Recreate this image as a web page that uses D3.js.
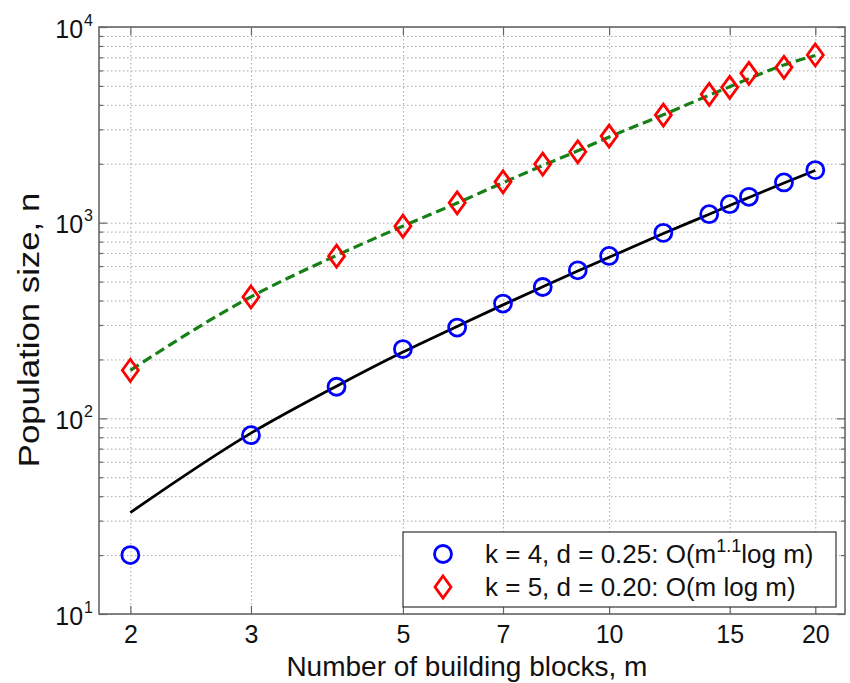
<!DOCTYPE html>
<html>
<head>
<meta charset="utf-8">
<script src="https://cdnjs.cloudflare.com/ajax/libs/d3/7.8.5/d3.min.js"></script>
<style>
  body { margin: 0; background: #fff; }
  svg { display: block; font-family: "Liberation Sans", Arial, sans-serif; }
</style>
</head>
<body>
<div id="chart-area"></div>
<script>
// Data
var blocks = [2, 3, 4, 5, 6, 7, 8, 9, 10, 12, 14, 15, 16, 18, 20];
var popK4 = [20, 82, 145, 226, 291, 386, 469, 571, 676, 887, 1105, 1243, 1355, 1606, 1856];
var popK5 = [176, 417, 674, 960, 1263, 1617, 1993, 2303, 2770, 3548, 4529, 4916, 5797, 6223, 7194];
var fitK4 = [33, 84, 146, 218, 295, 380, 470, 566, 665, 880, 1105, 1225, 1345, 1595, 1850];
var fitK5 = [176, 418, 680, 960, 1260, 1600, 1960, 2330, 2740, 3560, 4480, 4950, 5450, 6400, 7150];
var xTicks = [2, 3, 5, 7, 10, 15, 20];
var yTicks = [10, 100, 1000, 10000];
var yMinor = [20, 30, 40, 50, 60, 70, 80, 90, 200, 300, 400, 500, 600, 700, 800, 900,
              2000, 3000, 4000, 5000, 6000, 7000, 8000, 9000];
var legendK4 = ["k = 4, d = 0.25: O(m", "1.1", "log m)"];
var legendK5 = ["k = 5, d = 0.20: O(m log m)"];

// Setup
var margin = { left: 99, right: 5, top: 27, bottom: 69 };
var width = 850 - margin.left - margin.right;
var height = 683 - margin.top - margin.bottom;

var svg = d3.select("#chart-area")
  .append("svg")
    .attr("width", 850)
    .attr("height", 683);

var g = svg.append("g")
  .attr("transform", "translate(" + margin.left + ", " + margin.top + ")");

var x = d3.scaleLog()
  .domain([1.8, 22.1])
  .range([0, width]);

var y = d3.scaleLog()
  .domain([10, 10000])
  .range([height, 0]);

// Grid lines
var gridColor = "#a8a8a8";

g.append("g")
  .attr("class", "x-grid")
  .call(d3.axisBottom(x).tickValues(xTicks).tickSize(height).tickFormat(""))
  .call(function (s) { s.select(".domain").remove(); })
  .selectAll("line")
    .attr("stroke", gridColor)
    .attr("stroke-dasharray", "1.5,2.5");

g.append("g")
  .attr("class", "y-grid")
  .call(d3.axisLeft(y).tickValues(yTicks.concat(yMinor)).tickSize(-width).tickFormat(""))
  .call(function (s) { s.select(".domain").remove(); })
  .selectAll("line")
    .attr("stroke", gridColor)
    .attr("stroke-dasharray", "1.5,2.5");

// Fit lines
var line = d3.line()
  .x(function (d) { return x(d[0]); })
  .y(function (d) { return y(d[1]); })
  .curve(d3.curveMonotoneX);

g.append("path")
  .datum(d3.zip(blocks, fitK4))
  .attr("fill", "none")
  .attr("stroke", "#000")
  .attr("stroke-width", 2.8)
  .attr("d", line);

g.append("path")
  .datum(d3.zip(blocks, fitK5))
  .attr("fill", "none")
  .attr("stroke", "#168016")
  .attr("stroke-width", 3.2)
  .attr("stroke-dasharray", "10,5")
  .attr("d", line);

// Markers
var diamond = "M0,-11L8,0L0,11L-8,0Z";

g.selectAll(".k4")
  .data(d3.zip(blocks, popK4))
  .enter()
  .append("circle")
    .attr("class", "k4")
    .attr("cx", function (d) { return x(d[0]); })
    .attr("cy", function (d) { return y(d[1]); })
    .attr("r", 8.5)
    .attr("fill", "none")
    .attr("stroke", "#0000ff")
    .attr("stroke-width", 2.8);

g.selectAll(".k5")
  .data(d3.zip(blocks, popK5))
  .enter()
  .append("path")
    .attr("class", "k5")
    .attr("d", diamond)
    .attr("transform", function (d) { return "translate(" + x(d[0]) + "," + y(d[1]) + ")"; })
    .attr("fill", "none")
    .attr("stroke", "#ff0000")
    .attr("stroke-width", 2.8);

// Axes (ticks pointing inward, on all four sides)
var axisColor = "#666";

function styleAxis(s) {
  s.select(".domain").remove();
  s.selectAll("line").attr("stroke", axisColor).attr("stroke-width", 1.2);
}

g.append("g")
  .attr("transform", "translate(0," + height + ")")
  .call(d3.axisBottom(x).tickValues(xTicks).tickSizeInner(-8).tickSizeOuter(0).tickPadding(11).tickFormat(d3.format("d")))
  .call(styleAxis)
  .selectAll("text")
    .attr("font-size", "25px")
    .attr("font-family", "Liberation Sans, Arial, sans-serif")
    .attr("fill", "#111");

g.append("g")
  .call(d3.axisTop(x).tickValues(xTicks).tickSizeInner(-8).tickSizeOuter(0).tickFormat(""))
  .call(styleAxis);

var yAxisGroup = g.append("g")
  .call(d3.axisLeft(y).tickValues(yTicks).tickSizeInner(-8).tickSizeOuter(0).tickFormat(""))
  .call(styleAxis);

g.append("g")
  .call(d3.axisLeft(y).tickValues(yMinor).tickSizeInner(-4).tickSizeOuter(0).tickFormat(""))
  .call(styleAxis);

g.append("g")
  .attr("transform", "translate(" + width + ",0)")
  .call(d3.axisRight(y).tickValues(yTicks).tickSizeInner(-8).tickSizeOuter(0).tickFormat(""))
  .call(styleAxis);

g.append("g")
  .attr("transform", "translate(" + width + ",0)")
  .call(d3.axisRight(y).tickValues(yMinor).tickSizeInner(-4).tickSizeOuter(0).tickFormat(""))
  .call(styleAxis);

// y tick labels as powers of ten
yAxisGroup.selectAll(".tick")
  .append("text")
    .attr("x", -6)
    .attr("y", 10)
    .attr("text-anchor", "end")
    .attr("font-size", "25px")
    .attr("fill", "#111")
    .each(function (d) {
      var t = d3.select(this);
      t.append("tspan").text("10");
      t.append("tspan")
        .attr("font-size", "16px")
        .attr("dx", 1)
        .attr("dy", -12)
        .text(Math.round(Math.log10(d)));
    });

// Box
g.append("rect")
  .attr("width", width)
  .attr("height", height)
  .attr("fill", "none")
  .attr("stroke", axisColor)
  .attr("stroke-width", 1.6);

// Axis labels
g.append("text")
  .attr("x", x(6.2))
  .attr("y", height + 62)
  .attr("font-size", "28px")
  .attr("text-anchor", "middle")
  .attr("fill", "#111")
  .text("Number of building blocks, m");

g.append("g")
  .attr("transform", "translate(-60," + (y(318) + 10) + ") rotate(-90) scale(1.2,1)")
  .append("text")
    .attr("font-size", "29px")
    .attr("text-anchor", "middle")
    .attr("fill", "#111")
    .text("Population size, n");

// Legend
var legend = g.append("g")
  .attr("transform", "translate(" + (width - 442) + "," + (height - 82) + ")");

legend.append("rect")
  .attr("width", 433)
  .attr("height", 75)
  .attr("fill", "#fff")
  .attr("stroke", "#333")
  .attr("stroke-width", 1.2);

legend.append("circle")
  .attr("cx", 40)
  .attr("cy", 22)
  .attr("r", 8.5)
  .attr("fill", "none")
  .attr("stroke", "#0000ff")
  .attr("stroke-width", 2.8);

legend.append("path")
  .attr("d", diamond)
  .attr("transform", "translate(40,55)")
  .attr("fill", "none")
  .attr("stroke", "#ff0000")
  .attr("stroke-width", 2.8);

var row1 = legend.append("text")
  .attr("x", 82)
  .attr("y", 31)
  .attr("font-size", "26px")
  .attr("fill", "#111");
row1.append("tspan").text(legendK4[0]);
row1.append("tspan").attr("font-size", "18px").attr("dy", -11).text(legendK4[1]);
row1.append("tspan").attr("dy", 11).text(legendK4[2]);

legend.append("text")
  .attr("x", 82)
  .attr("y", 64)
  .attr("font-size", "26px")
  .attr("fill", "#111")
  .text(legendK5[0]);
</script>
</body>
</html>
